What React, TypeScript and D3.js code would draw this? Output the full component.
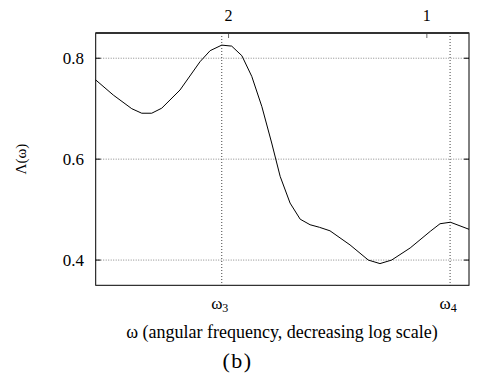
import React from "react";
import * as d3 from "d3";

// x values expressed on the top axis quantity (decreasing log scale)
const xValues = [3.182, 2.992, 2.805, 2.709, 2.616, 2.526, 2.37, 2.21, 2.133, 2.048, 1.978, 1.909, 1.844, 1.78, 1.72, 1.67, 1.613, 1.557, 1.504, 1.456, 1.403, 1.308, 1.227, 1.178, 1.131, 1.06, 0.988, 0.955, 0.921, 0.863];
const lambdaValues = [0.757, 0.727, 0.7, 0.691, 0.691, 0.701, 0.737, 0.793, 0.815, 0.826, 0.824, 0.805, 0.764, 0.704, 0.632, 0.566, 0.513, 0.481, 0.47, 0.465, 0.458, 0.43, 0.4, 0.393, 0.4, 0.424, 0.457, 0.472, 0.475, 0.461];
const yTicks = [0.4, 0.6, 0.8];
const topTicks = [2, 1];
const bottomTicks = [
  { label: "ω", sub: "3", value: 2.048 },
  { label: "ω", sub: "4", value: 0.922 },
];
const xDomain = [3.182, 0.863];
const yDomain = [0.35, 0.85];

const serif = "Liberation Serif, serif";

export default function App() {
  const W = 479, H = 376;
  const left = 95.7, right = 469, top = 33, bottom = 285.3;
  const x = d3.scaleLog().domain(xDomain).range([left, right]);
  const y = d3.scaleLinear().domain(yDomain).range([bottom, top]);
  const line = d3.line<number>().x((_, i) => x(xValues[i])).y((d) => y(d)).curve(d3.curveLinear);
  const ts = (size: number) => ({ fontFamily: serif, fontSize: size });
  return (
    <svg width={W} height={H} style={{ position: "absolute", left: 0, top: 0 }}>
      <rect width={W} height={H} fill="#fff" />
      {/* grid */}
      {yTicks.map((t) => (
        <line key={"gy" + t} x1={left} x2={right} y1={y(t)} y2={y(t)} stroke="#888" strokeWidth={1} strokeDasharray="1,1.5" />
      ))}
      {bottomTicks.map((t) => (
        <line key={"gx" + t.sub} x1={x(t.value)} x2={x(t.value)} y1={top} y2={bottom} stroke="#444" strokeWidth={1} strokeDasharray="1,2" />
      ))}
      {/* ticks */}
      {yTicks.map((t) => (
        <g key={"ty" + t}>
          <line x1={left} x2={left + 5} y1={y(t)} y2={y(t)} stroke="#000" />
          <line x1={right - 5} x2={right} y1={y(t)} y2={y(t)} stroke="#000" />
          <text x={84} y={y(t) + 6} textAnchor="end" style={ts(17)}>{t.toFixed(1)}</text>
        </g>
      ))}
      {topTicks.map((t) => (
        <g key={"tt" + t}>
          <line x1={x(t)} x2={x(t)} y1={top} y2={top + 5} stroke="#666" />
          <text x={x(t)} y={20.5} textAnchor="middle" style={ts(16)}>{t}</text>
        </g>
      ))}
      {bottomTicks.map((t) => (
        <text key={"bt" + t.sub} x={x(t.value) - 2} y={308.5} textAnchor="middle" style={ts(17)}>
          {t.label}
          <tspan style={{ fontSize: 12 }} dy={3.5}>{t.sub}</tspan>
        </text>
      ))}
      {/* frame */}
      <rect x={left} y={top} width={right - left} height={bottom - top} fill="none" stroke="#000" strokeWidth={1} />
      <line x1={left} x2={right} y1={top} y2={top} stroke="#333" strokeWidth={2} />
      {/* curve */}
      <path d={line(lambdaValues) || ""} fill="none" stroke="#000" strokeWidth={1} />
      {/* labels */}
      <text transform={`translate(26,159) rotate(-90)`} textAnchor="middle" style={ts(15)}>Λ(ω)</text>
      <text x={282} y={338} textAnchor="middle" style={ts(18)}>ω (angular frequency, decreasing log scale)</text>
      <text x={237.5} y={368} textAnchor="middle" style={{ ...ts(22), letterSpacing: 1.5 }}>(b)</text>
    </svg>
  );
}
